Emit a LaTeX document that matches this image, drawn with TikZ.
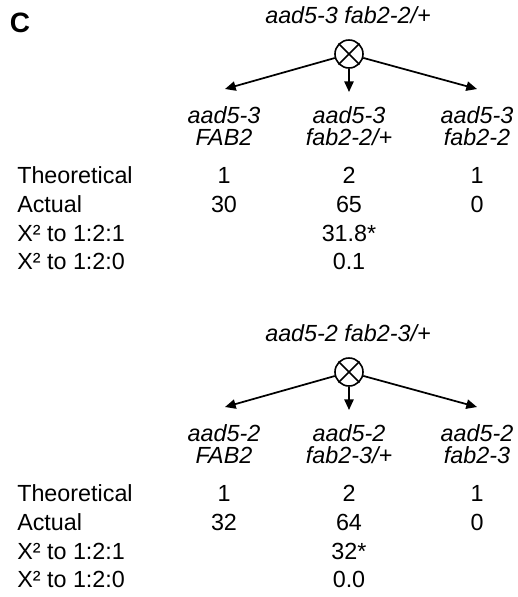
\documentclass[tikz,border=0pt]{standalone}
\usepackage{fontspec}
\setmainfont{Liberation Sans}
\usetikzlibrary{arrows.meta}

\begin{document}
\begin{tikzpicture}[x=0.75pt,y=-0.75pt,
	every node/.style={inner sep=0pt,font=\fontsize{17.5}{21}\selectfont},
	rowlbl/.style={anchor=base west},
	val/.style={anchor=base},
	geno/.style={anchor=base,font=\fontsize{17.5}{21}\selectfont\itshape},
	crossmark/.style={draw,circle,line width=1.2pt,minimum size=21pt},
	arr/.style={-{Triangle[length=8pt,width=7pt]},line width=1.3pt}]

	\useasboundingbox (0,0) rectangle (518,597);
	\node[font=\fontsize{21}{24}\selectfont\bfseries] (panel) at (20,23) {C};

	\begin{scope}
		%cross
		\node[geno] (title1) at (348,23) {aad5-3 fab2-2/+};
		\node[crossmark] (x1) at (349,54) {};
		\draw[line width=1.2pt] (x1.north west) -- (x1.south east) (x1.north east) -- (x1.south west);
		\coordinate (p1a) at (225,89);
		\coordinate (p1b) at (349,92);
		\coordinate (p1c) at (477,89);
		\draw[arr] (x1) -- (p1a);
		\draw[arr] (x1) -- (p1b);
		\draw[arr] (x1) -- (p1c);

		%progeny
		\node[geno] (g1a) at (224,123) {aad5-3};
		\node[geno] (g1b) at (224,145) {FAB2};
		\node[geno] (g1c) at (349,123) {aad5-3};
		\node[geno] (g1d) at (349,145) {fab2-2/+};
		\node[geno] (g1e) at (477,123) {aad5-3};
		\node[geno] (g1f) at (477,145) {fab2-2};

		%counts
		\node[rowlbl] (th1) at (17,183) {Theoretical};
		\node[val] (th1a) at (224,183) {1};
		\node[val] (th1b) at (349,183) {2};
		\node[val] (th1c) at (477,183) {1};
		\node[rowlbl] (ac1) at (17,212) {Actual};
		\node[val] (ac1a) at (224,212) {30};
		\node[val] (ac1b) at (349,212) {65};
		\node[val] (ac1c) at (477,212) {0};
		\node[rowlbl] (cs1) at (17,241) {X² to 1:2:1};
		\node[val] (cs1b) at (349,241) {31.8*};
		\node[rowlbl] (cz1) at (17,269) {X² to 1:2:0};
		\node[val] (cz1b) at (349,269) {0.1};
	\end{scope}

	\begin{scope}[shift={(0,318)}]
		%cross
		\node[geno] (title2) at (348,23) {aad5-2 fab2-3/+};
		\node[crossmark] (x2) at (349,54) {};
		\draw[line width=1.2pt] (x2.north west) -- (x2.south east) (x2.north east) -- (x2.south west);
		\coordinate (p2a) at (225,89);
		\coordinate (p2b) at (349,92);
		\coordinate (p2c) at (477,89);
		\draw[arr] (x2) -- (p2a);
		\draw[arr] (x2) -- (p2b);
		\draw[arr] (x2) -- (p2c);

		%progeny
		\node[geno] (g2a) at (224,123) {aad5-2};
		\node[geno] (g2b) at (224,145) {FAB2};
		\node[geno] (g2c) at (349,123) {aad5-2};
		\node[geno] (g2d) at (349,145) {fab2-3/+};
		\node[geno] (g2e) at (477,123) {aad5-2};
		\node[geno] (g2f) at (477,145) {fab2-3};

		%counts
		\node[rowlbl] (th2) at (17,183) {Theoretical};
		\node[val] (th2a) at (224,183) {1};
		\node[val] (th2b) at (349,183) {2};
		\node[val] (th2c) at (477,183) {1};
		\node[rowlbl] (ac2) at (17,212) {Actual};
		\node[val] (ac2a) at (224,212) {32};
		\node[val] (ac2b) at (349,212) {64};
		\node[val] (ac2c) at (477,212) {0};
		\node[rowlbl] (cs2) at (17,241) {X² to 1:2:1};
		\node[val] (cs2b) at (349,241) {32*};
		\node[rowlbl] (cz2) at (17,269) {X² to 1:2:0};
		\node[val] (cz2b) at (349,269) {0.0};
	\end{scope}

\end{tikzpicture}
\end{document}
